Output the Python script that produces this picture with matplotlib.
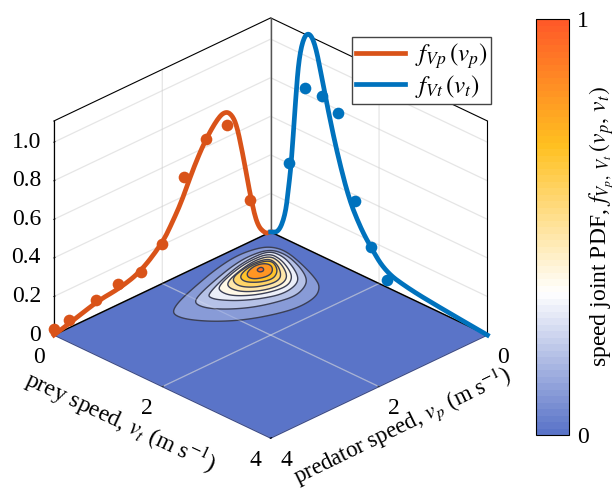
import numpy as np
import matplotlib
matplotlib.use("Agg")
import matplotlib.pyplot as plt
from matplotlib.colors import LinearSegmentedColormap, Normalize
from matplotlib.cm import ScalarMappable
from mpl_toolkits.mplot3d.art3d import Poly3DCollection

plt.rcParams['font.family'] = ['Liberation Serif', 'DejaVu Serif']
plt.rcParams['mathtext.fontset'] = 'stix'
plt.rcParams['font.size'] = 17

# marginal PDF curves
vp_curve = [0, 0.10, 0.25, 0.37, 0.50, 0.62, 0.71, 0.82, 0.96, 1.20, 1.42, 1.64, 1.82, 2.00, 2.40, 2.80, 3.17, 3.63, 4.0]
fp_curve = [0, 0.005, 0.07, 0.23, 0.45, 0.63, 0.70, 0.735, 0.725, 0.64, 0.525, 0.38, 0.29, 0.21, 0.115, 0.08, 0.07, 0.03, 0]
vt_curve = [0, 0.15, 0.27, 0.33, 0.38, 0.46, 0.52, 0.61, 0.72, 0.83, 0.95, 1.07, 1.23, 1.44, 1.63, 1.82, 2.12, 2.56, 3.11, 4.0]
ft_curve = [0, 0.02, 0.126, 0.272, 0.405, 0.746, 0.965, 1.093, 1.13, 1.075, 0.918, 0.761, 0.571, 0.369, 0.258, 0.177, 0.077, 0.046, 0.026, 0]

# measured points
vp_dots = [0.39, 0.80, 1.20, 1.60, 2.00, 2.40, 2.82, 3.22, 3.72, 4.0]
fp_dots = [0.22, 0.66, 0.64, 0.50, 0.205, 0.115, 0.106, 0.077, 0.04, 0.03]
vt_dots = [0.33, 0.63, 0.94, 1.24, 1.55, 1.85, 2.15]
ft_dots = [0.40, 0.83, 0.83, 0.78, 0.37, 0.17, 0.04]

# joint PDF contours as (vp, vt) rings, outermost first
contour_levels = [0.1, 0.2, 0.3, 0.38, 0.48, 0.58, 0.68, 0.82, 0.95]
contour_rings = [
    [(2.43, .61), (2.175, .48), (1.73, .34), (1.22, .20), (.78, .13), (.45, .17), (.275, .27), (.22, .49), (.33, .90),
     (.49, 1.32), (.62, 1.52), (.85, 1.67), (1.20, 1.71), (1.54, 1.63), (1.93, 1.46), (2.24, 1.22), (2.45, .94), (2.50, .74)],
    [(2.03, .62), (1.81, .52), (1.42, .40), (1.00, .29), (.66, .25), (.34, .305), (.285, .555), (.39, .905),
     (.545, 1.20), (.716, 1.355), (1.00, 1.46), (1.32, 1.40), (1.63, 1.28), (1.88, 1.10), (2.05, .90), (2.09, .73)],
    [(1.78, .62), (1.45, .49), (1.005, .354), (.66, .31), (.375, .34), (.35, .56), (.45, .84),
     (.62, 1.13), (.81, 1.26), (1.09, 1.30), (1.36, 1.20), (1.62, 1.03), (1.79, .83), (1.83, .70)],
    [(1.54, .56), (1.13, .42), (.75, .35), (.42, .38), (.43, .61), (.55, .88),
     (.68, 1.07), (.885, 1.19), (1.14, 1.16), (1.39, 1.05), (1.59, .87), (1.62, .69)],
    [(1.38, .56), (1.04, .45), (.71, .39), (.47, .435), (.48, .62), (.61, .88),
     (.76, 1.05), (.96, 1.11), (1.21, 1.05), (1.42, .89), (1.47, .70)],
    [(1.26, .53), (.98, .45), (.71, .43), (.52, .49), (.56, .67), (.69, .87), (.83, .99), (1.01, 1.00), (1.24, .90), (1.35, .725)],
    [(1.14, .55), (.87, .46), (.66, .475), (.55, .55), (.60, .69), (.72, .835), (.89, .92), (1.08, .86), (1.21, .71)],
    [(1.00, .55), (.80, .49), (.66, .53), (.63, .64), (.75, .78), (.89, .82), (1.05, .76), (1.09, .66)],
    [(.86, .59), (.77, .57), (.76, .62), (.82, .68), (.88, .66)],
]

v_ticks = [0, 2, 4]
z_ticks = [0, 0.2, 0.4, 0.6, 0.8, 1.0]
z_tick_labels = ['0', '0.2', '0.4', '0.6', '0.8', '1.0']
v_max = 4
z_max = 1.11

orange = '#d95319'
blue = '#0072bd'
floor_color = '#5a74c8'
cmap = LinearSegmentedColormap.from_list(
    'pdf', [(0, floor_color), (0.34, '#ffffff'), (0.7, '#ffc020'), (1, '#ff5a28')], N=64)


def round_ring(ring, passes=3):
    """Cut the corners of a closed ring so it draws as a smooth outline."""
    pts = np.array(ring, dtype=float)
    for _ in range(passes):
        nxt = np.roll(pts, -1, axis=0)
        pts = np.column_stack([0.75 * pts + 0.25 * nxt, 0.25 * pts + 0.75 * nxt]).reshape(-1, 2)
    return pts


def round_line(xs, ys, passes=3):
    """Same corner cutting for an open line, the two ends stay where they are."""
    pts = np.column_stack([xs, ys]).astype(float)
    for _ in range(passes):
        a, b = pts[:-1], pts[1:]
        cut = np.column_stack([0.75 * a + 0.25 * b, 0.25 * a + 0.75 * b]).reshape(-1, 2)
        pts = np.vstack([pts[0], cut, pts[-1]])
    return pts[:, 0], pts[:, 1]


fig = plt.figure(figsize=(6.16, 4.92), dpi=100)
ax = fig.add_axes([-0.0714, 0.023, 1.0, 1.0], projection='3d', proj_type='ortho', computed_zorder=False)
ax.view_init(elev=28.4, azim=45)
ax.set_box_aspect((1, 1, 0.794), zoom=0.981)
ax.set_xlim(0, v_max, view_margin=0)
ax.set_ylim(0, v_max, view_margin=0)
ax.set_zlim(0, z_max, view_margin=0)

ax.xaxis.pane.set_facecolor('white')
ax.yaxis.pane.set_facecolor('white')
ax.zaxis.pane.set_facecolor(floor_color)
for axis in (ax.xaxis, ax.yaxis, ax.zaxis):
    axis.pane.set_edgecolor('none')
    axis.pane.set_alpha(1)
    axis._axinfo['grid'].update(color=(0.8, 0.8, 0.8, 0.5), linewidth=0.9)
    axis._axinfo['tick'].update(inward_factor=0.0, outward_factor=0.06)
    axis._axinfo['tick']['linewidth'] = {True: 0.7, False: 0.7}
    axis.line.set_linewidth(0.8)
ax.xaxis.line.set_color('#3a4a8a')
ax.yaxis.line.set_color('#3a4a8a')

ax.set_xticks(v_ticks)
ax.set_yticks(v_ticks)
ax.set_zticks(z_ticks)
ax.set_zticklabels(z_tick_labels)
ax.tick_params(axis='x', pad=5)
ax.tick_params(axis='y', pad=5)
ax.tick_params(axis='z', pad=-2.5)
for axis in (ax.xaxis, ax.yaxis, ax.zaxis):
    for t in axis.get_major_ticks():
        t.label1.set_va('center')
for t in ax.zaxis.get_major_ticks():
    t.label1.set_ha('right')

# box edges
edge = dict(color='black', lw=0.8, zorder=1)
ax.plot([v_max, 0, 0], [0, 0, v_max], [z_max, z_max, z_max], **edge)
ax.plot([v_max, v_max], [0, 0], [0, z_max], **edge)
ax.plot([0, 0], [v_max, v_max], [0, z_max], **edge)
ax.plot([0, 0], [0, 0], [0, z_max], color='#555555', lw=1.0, zorder=1)
ax.plot([v_max, 0, 0], [0, 0, v_max], [0, 0, 0], color='black', lw=1.1, zorder=1)

# joint PDF on the floor
norm = Normalize(0, 1)
for k, (level, ring) in enumerate(zip(contour_levels, contour_rings)):
    pts = round_ring(ring)
    verts = [[(p[0], p[1], 0) for p in pts]]
    poly = Poly3DCollection(verts, facecolor=cmap(norm(level)), edgecolor='#3b3f55', linewidth=1.0, zorder=2 + k * 0.01)
    ax.add_collection3d(poly)

# faint grid over the floor
ax.plot([2, 2], [0, v_max], [0, 0], color='white', lw=0.9, alpha=0.2, zorder=3)
ax.plot([0, v_max], [2, 2], [0, 0], color='white', lw=0.9, alpha=0.2, zorder=3)

px, pz = round_line(vp_curve, fp_curve)
tx, tz = round_line(vt_curve, ft_curve)
line_p, = ax.plot(px, np.zeros(len(px)), pz, color=orange, lw=3.4, zorder=4, label=r'$f_{Vp}\,(v_p)$')
line_t, = ax.plot(np.zeros(len(tx)), tx, tz, color=blue, lw=3.4, zorder=4, label=r'$f_{Vt}\,(v_t)$')
ax.plot(vp_dots, np.zeros(len(vp_dots)), fp_dots, 'o', color=orange, ms=8.4, mew=0, zorder=5)
ax.plot(np.zeros(len(vt_dots)), vt_dots, ft_dots, 'o', color=blue, ms=8.4, mew=0, zorder=5)

fig.legend(handles=[line_p, line_t], loc='upper left', bbox_to_anchor=(352 / 616, 1 - 37 / 492), borderaxespad=0,
           fancybox=False, framealpha=1, edgecolor='#444444', fontsize=18, handlelength=1.96, handletextpad=0.4,
           borderpad=0.15, labelspacing=0.1)

fig.text(120 / 616, 1 - 422 / 492, r'prey speed, $v_t$ (m s$^{-1}$)', rotation=-25, ha='center', va='center',
         rotation_mode='anchor', fontsize=17)
fig.text(402 / 616, 1 - 426 / 492, r'predator speed, $v_p$ (m s$^{-1}$)', rotation=26, ha='center', va='center',
         rotation_mode='anchor', fontsize=16.5)

cax = fig.add_axes([536 / 616, 1 - 435 / 492, 33 / 616, 416 / 492])
cbar = fig.colorbar(ScalarMappable(norm=norm, cmap=cmap), cax=cax, ticks=[0, 1])
cbar.ax.set_yticklabels(['0', '1'])
cbar.ax.tick_params(length=0, pad=6, labelsize=17)
cbar.outline.set_linewidth(0.8)
fig.text(602 / 616, 1 - 227 / 492, r'speed joint PDF, $f_{V_p,\ V_t}\,(v_p,\, v_t)$', rotation=90, ha='center', va='center', fontsize=17)

fig.savefig('out.png', dpi=100)
